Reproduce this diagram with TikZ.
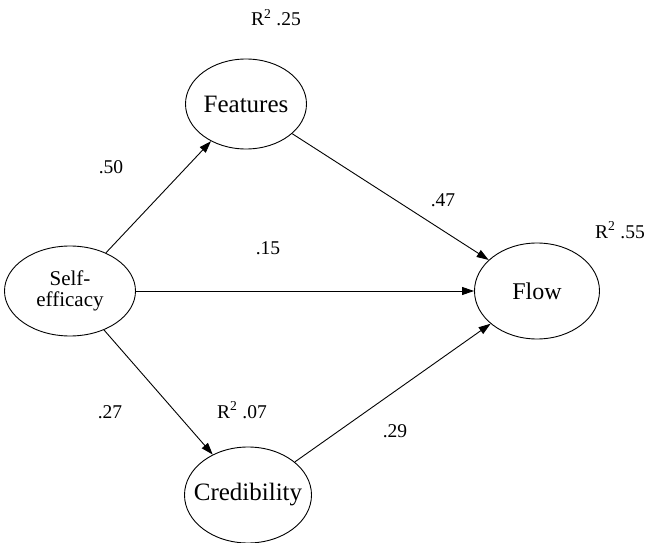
\documentclass[tikz,border=0pt]{standalone}
\usepackage{fontspec}
\setmainfont{Liberation Serif}
\usetikzlibrary{shapes.geometric,arrows.meta}
\begin{document}
\begin{tikzpicture}[x=1pt,y=-1pt,
  latent/.style={draw, ellipse, line width=0.9pt, inner sep=0pt},
  path/.style={line width=0.9pt, -{Triangle[length=12pt,width=8pt]}},
  coef/.style={anchor=base, inner sep=0pt, font=\fontsize{19.5}{22}\selectfont}]
\useasboundingbox (0,0) rectangle (649,543);
\fill[white] (0,0) rectangle (649,543);
\node[latent, minimum width=131pt, minimum height=90pt, font=\fontsize{21}{24}\selectfont] (self) at (70,291)
  {\makebox[0pt]{\begin{tabular}{@{}c@{}}Self-\\[-3pt]efficacy\end{tabular}}};
\node[latent, minimum width=121pt, minimum height=90pt, font=\fontsize{25}{30}\selectfont] (feat) at (246,104) {\makebox[0pt]{Features}};
\node[latent, minimum width=125pt, minimum height=96pt, font=\fontsize{24}{28}\selectfont] (flow) at (537,291) {\makebox[0pt]{Flow}};
\node[latent, minimum width=127pt, minimum height=96pt, font=\fontsize{25}{30}\selectfont] (cred) at (248,495) {\makebox[0pt]{Credibility}};
\draw[path] (self) -- (feat);
\draw[path] (self) -- (flow);
\draw[path] (self) -- (cred);
\draw[path] (feat) -- (flow);
\draw[path] (cred) -- (flow);
\node[coef] (r25) at (276,26) {R\textsuperscript{2} .25};
\node[coef] (c50) at (111,173) {.50};
\node[coef] (c15) at (268,254) {.15};
\node[coef] (c47) at (443,207) {.47};
\node[coef] (r55) at (620,238) {R\textsuperscript{2} .55};
\node[coef] (c27) at (110,418) {.27};
\node[coef] (r07) at (242,418) {R\textsuperscript{2} .07};
\node[coef] (c29) at (395,437) {.29};
\end{tikzpicture}
\end{document}
